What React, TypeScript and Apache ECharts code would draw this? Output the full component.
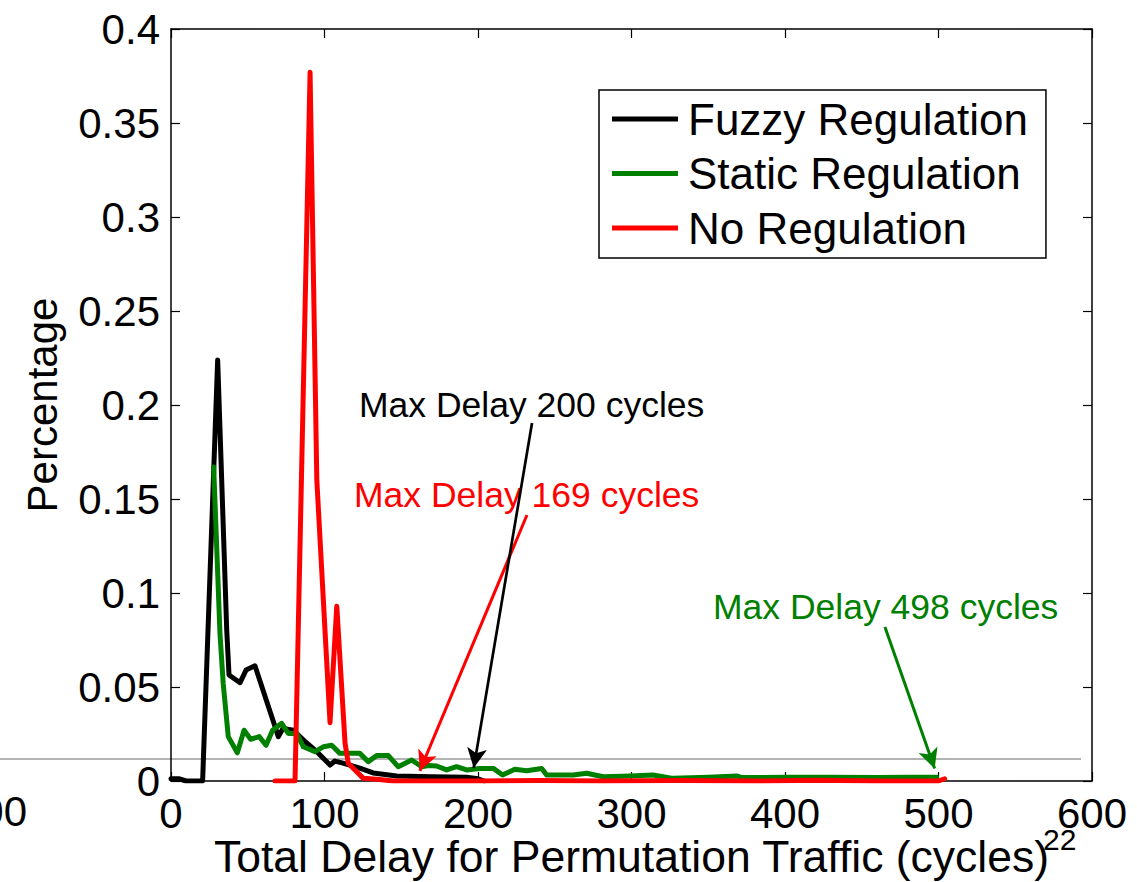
import React, { useEffect, useRef } from "react";
import * as echarts from "echarts";

const FONT = "'Liberation Sans', Arial, Helvetica, sans-serif";

const xTicks = { min: 0, max: 600, interval: 100 };
const yTicks = { min: 0, max: 0.4, interval: 0.05 };

const seriesNames = ["Fuzzy Regulation", "Static Regulation", "No Regulation"];

const fuzzyDelay = [0, 5, 10, 15, 20.6, 30.4, 36.3, 37.8, 45, 48.9, 54.7, 67.8, 69.9, 73, 79.7, 88.4, 95, 103.6, 106.8, 112, 123, 131.7, 147, 170, 192.6, 200, 204];
const fuzzyPct = [0.0012, 0.0012, 0, 0, 0, 0.224, 0.0803, 0.0564, 0.0523, 0.059, 0.0613, 0.0289, 0.0236, 0.028, 0.027, 0.0202, 0.0156, 0.0085, 0.0106, 0.0095, 0.0069, 0.0043, 0.0027, 0.0022, 0.002, 0.0012, 0];

const staticDelay = [27.8, 31.9, 34, 37.3, 43.2, 47.6, 51.9, 57.5, 61.9, 66.2, 72.1, 76.4, 81.9, 86.2, 93.8, 99.2, 104.7, 110, 117, 123, 128.5, 134, 141.6, 148, 156.8, 163.3, 168, 173, 179.6, 186, 192.6, 201, 210, 216, 224, 231.7, 241.5, 244.7, 262, 270.8, 281.6, 299, 314, 327, 350, 368.5, 372, 400, 430, 460, 480, 498.8];
const staticPct = [0.167, 0.0785, 0.052, 0.0236, 0.015, 0.027, 0.0222, 0.0236, 0.019, 0.027, 0.0307, 0.0253, 0.0253, 0.0182, 0.0156, 0.0182, 0.019, 0.0147, 0.0147, 0.0147, 0.0103, 0.0135, 0.0135, 0.0076, 0.0112, 0.0076, 0.0082, 0.008, 0.0059, 0.0076, 0.0059, 0.0067, 0.0067, 0.0032, 0.0062, 0.0055, 0.0067, 0.0032, 0.0032, 0.0041, 0.0023, 0.0027, 0.0032, 0.0014, 0.002, 0.0027, 0.0018, 0.002, 0.002, 0.0018, 0.002, 0.002];

const noneDelay = [67.8, 80.8, 90.6, 95, 103.6, 108, 113.4, 115.5, 125.3, 134, 144.8, 170, 200, 240, 280, 330, 380, 420, 460, 500, 504];
const nonePct = [0, 0, 0.377, 0.16, 0.031, 0.093, 0.02, 0.0094, 0.0014, 0.0009, 0, 0, 0, 0.0003, 0, 0.0003, 0, 0.0004, 0, 0, 0.0012];

// annotation arrows: [start, end] in data units
const arrowFuzzy = [[235.2, 0.1904], [197.2, 0.0069]];
const arrowStatic = [[465.1, 0.0819], [497.5, 0.0066]];
const arrowNone = [[231.9, 0.1415], [162.1, 0.0054]];

const annotationTexts = ["Max Delay 200 cycles", "Max Delay 169 cycles", "Max Delay 498 cycles"];

const BLACK = "#000000";
const GREEN = "#008000";
const RED = "#ff0000";

function pairs(xs: number[], ys: number[]) {
  return xs.map((x, i) => [x, ys[i]]);
}

function arrow(a: number[][], color: string, width: number, z: number) {
  return {
    silent: true,
    symbol: ["none", "arrow"],
    symbolSize: [15, 20],
    z,
    label: { show: false },
    lineStyle: { color, width, type: "solid" },
    emphasis: { disabled: true },
    data: [[{ coord: a[0] }, { coord: a[1] }]],
  };
}

export default function App() {
  const ref = useRef<HTMLDivElement>(null);
  useEffect(() => {
    const chart = echarts.init(ref.current!, null, { renderer: "svg" });
    const axisLine = { show: true, onZero: false, lineStyle: { color: "#000", width: 1.5 } };
    const axisTick = { show: true, inside: true, length: 9, lineStyle: { color: "#000", width: 1.2 } };
    chart.setOption({
      animation: false,
      backgroundColor: "#ffffff",
      textStyle: { fontFamily: FONT },
      grid: { left: 171, right: 45, top: 29, bottom: 101, containLabel: false, outerBoundsMode: "none" },
      legend: {
        orient: "vertical",
        left: 599,
        top: 90,
        data: seriesNames,
        icon: "rect",
        itemWidth: 66,
        itemHeight: 5,
        itemGap: 4.5,
        padding: [4, 18, 5, 13],
        borderColor: "#000",
        borderWidth: 1.5,
        backgroundColor: "#fff",
        selectedMode: false,
        textStyle: { fontSize: 44, lineHeight: 50, color: "#000", fontFamily: FONT, padding: [0, 0, 0, 5] },
      },
      xAxis: [
        {
          type: "value",
          ...xTicks,
          position: "bottom",
          axisLine,
          axisTick,
          splitLine: { show: false },
          axisLabel: { fontSize: 42, color: "#000", margin: 11, fontFamily: FONT },
          name: "Total Delay for Permutation Traffic (cycles)",
          nameLocation: "middle",
          nameGap: 53,
          nameMoveOverlap: false,
          nameTextStyle: { fontSize: 44.5, color: "#000", fontFamily: FONT },
        },
        {
          type: "value",
          ...xTicks,
          position: "top",
          axisLine,
          axisTick,
          splitLine: { show: false },
          axisLabel: { show: false },
        },
      ],
      yAxis: [
        {
          type: "value",
          ...yTicks,
          position: "left",
          axisLine,
          axisTick,
          splitLine: { show: false },
          axisLabel: { fontSize: 42, color: "#000", margin: 11, fontFamily: FONT },
          name: "Percentage",
          nameLocation: "middle",
          nameGap: 108,
          nameMoveOverlap: false,
          nameTextStyle: { fontSize: 42, color: "#000", fontFamily: FONT },
        },
        {
          type: "value",
          ...yTicks,
          position: "right",
          axisLine,
          axisTick,
          splitLine: { show: false },
          axisLabel: { show: false },
        },
      ],
      graphic: [
        { type: "line", z: 0, silent: true, shape: { x1: 0, y1: 759, x2: 1081, y2: 759 }, style: { stroke: "#9a9a9a", lineWidth: 1.5 } },
        { type: "text", z: 1, x: 359, y: 405, style: { text: annotationTexts[0], fontSize: 35.5, fontFamily: FONT, fill: BLACK, align: "left", verticalAlign: "middle" } },
        { type: "text", z: 1, x: 354, y: 495, style: { text: annotationTexts[1], fontSize: 35.5, fontFamily: FONT, fill: RED, align: "left", verticalAlign: "middle" } },
        { type: "text", z: 1, x: 713, y: 607, style: { text: annotationTexts[2], fontSize: 35.5, fontFamily: FONT, fill: GREEN, align: "left", verticalAlign: "middle" } },
        { type: "text", z: 1, x: 27, y: 811, style: { text: "00", fontSize: 42, fontFamily: FONT, fill: "#000", align: "right", verticalAlign: "middle" } },
        { type: "text", z: 3, x: 1043, y: 839, style: { text: "22", fontSize: 30, fontFamily: FONT, fill: "#000", align: "left", verticalAlign: "middle" } },
      ],
      series: [
        {
          name: seriesNames[0],
          type: "line",
          data: pairs(fuzzyDelay, fuzzyPct),
          showSymbol: false,
          symbol: "none",
          color: BLACK,
          lineStyle: { color: BLACK, width: 5, cap: "round", join: "round" },
          markLine: arrow(arrowFuzzy, BLACK, 2.7, 7),
        },
        {
          name: seriesNames[1],
          type: "line",
          data: pairs(staticDelay, staticPct),
          showSymbol: false,
          symbol: "none",
          color: GREEN,
          lineStyle: { color: GREEN, width: 5, cap: "round", join: "round" },
          markLine: arrow(arrowStatic, GREEN, 3, 6),
        },
        {
          name: seriesNames[2],
          type: "line",
          data: pairs(noneDelay, nonePct),
          showSymbol: false,
          symbol: "none",
          color: RED,
          lineStyle: { color: RED, width: 5, cap: "round", join: "round" },
          markLine: arrow(arrowNone, RED, 3, 6),
        },
      ],
    });
    return () => chart.dispose();
  }, []);
  return (
    <div
      ref={ref}
      style={{ position: "fixed", left: 0, top: 0, width: 1137, height: 882, background: "#fff" }}
    />
  );
}
